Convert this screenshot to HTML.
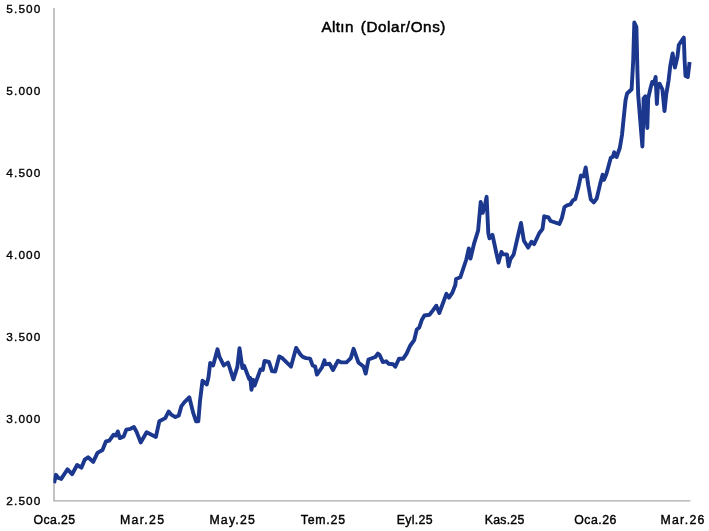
<!DOCTYPE html>
<html><head><meta charset="utf-8"><title>Altın (Dolar/Ons)</title>
<style>
html,body{margin:0;padding:0;background:#fff;}
body{width:709px;height:531px;overflow:hidden;}
svg{display:block;}
text{font-family:"Liberation Sans",sans-serif;fill:#000;stroke:#000;stroke-width:0.3;}
.yl{font-size:11.8px;stroke-width:0.35;}
.xl{font-size:12.3px;stroke-width:0.4;}
.tt{font-size:15.2px;stroke-width:0.5;}
</style></head><body>
<svg width="709" height="531" viewBox="0 0 709 531">
<rect width="709" height="531" fill="#fff"/>
<g id="labels" style="filter:grayscale(1)">
<path d="M54,8 V500.9 H690.4" fill="none" stroke="#ababab" stroke-width="1.4"/>
<text x="6.3" y="12.7" class="yl" textLength="34" lengthAdjust="spacing">5.500</text>
<text x="6.3" y="94.7" class="yl" textLength="34" lengthAdjust="spacing">5.000</text>
<text x="6.3" y="176.7" class="yl" textLength="34" lengthAdjust="spacing">4.500</text>
<text x="6.3" y="258.7" class="yl" textLength="34" lengthAdjust="spacing">4.000</text>
<text x="6.3" y="340.7" class="yl" textLength="34" lengthAdjust="spacing">3.500</text>
<text x="6.3" y="422.7" class="yl" textLength="34" lengthAdjust="spacing">3.000</text>
<text x="6.3" y="504.7" class="yl" textLength="34" lengthAdjust="spacing">2.500</text>
<text x="33.5" y="524.1" class="xl" textLength="41.5" lengthAdjust="spacing">Oca.25</text>
<text x="120.0" y="524.1" class="xl" textLength="44" lengthAdjust="spacing">Mar.25</text>
<text x="209.4" y="524.1" class="xl" textLength="45.5" lengthAdjust="spacing">May.25</text>
<text x="300.8" y="524.1" class="xl" textLength="44.2" lengthAdjust="spacing">Tem.25</text>
<text x="396.7" y="524.1" class="xl" textLength="35.8" lengthAdjust="spacing">Eyl.25</text>
<text x="484.7" y="524.1" class="xl" textLength="39.6" lengthAdjust="spacing">Kas.25</text>
<text x="574.3" y="524.1" class="xl" textLength="42" lengthAdjust="spacing">Oca.26</text>
<text x="660.4" y="524.1" class="xl" textLength="44" lengthAdjust="spacing">Mar.26</text>
<text x="321.6" y="32.3" class="tt" textLength="31.8" lengthAdjust="spacing">Altın</text>
<text x="360.8" y="32.3" class="tt" textLength="84.6" lengthAdjust="spacing">(Dolar/Ons)</text>
</g>
<clipPath id="c"><rect x="53.4" y="0" width="660" height="531"/></clipPath>
<path clip-path="url(#c)" d="M54.1,483.2 L55.9,474.8 L58.5,478.0 L61.2,478.9 L67.5,469.3 L72.1,474.2 L77.1,465.0 L81.4,467.7 L84.7,459.7 L88.1,457.3 L93.2,461.9 L97.5,452.9 L102.5,450.0 L105.9,441.5 L109.3,440.7 L113.6,434.7 L116.1,435.6 L117.8,431.4 L119.8,438.1 L123.7,436.4 L126.3,429.7 L130.5,428.8 L133.9,427.1 L136.4,431.4 L140.7,442.4 L146.6,432.2 L155.9,436.9 L159.3,421.3 L165.3,418.1 L168.6,411.5 L171.2,414.6 L175.4,417.1 L178.8,415.4 L181.4,406.1 L184.7,401.9 L189.3,397.3 L193.2,412.9 L196.1,421.4 L198.3,421.4 L200.0,401.0 L202.5,380.7 L206.8,384.4 L208.5,377.3 L210.2,362.9 L213.1,365.4 L217.5,349.3 L219.5,356.9 L223.7,365.4 L228.0,362.5 L233.4,379.3 L237.3,367.1 L239.5,348.1 L242.4,368.0 L244.1,365.8 L249.2,379.0 L250.3,378.1 L251.5,389.7 L253.2,379.8 L254.6,385.6 L260.5,369.4 L262.8,369.9 L264.5,360.9 L269.0,362.0 L272.0,371.1 L275.2,371.6 L279.2,356.4 L282.5,358.3 L291.0,366.6 L296.1,347.9 L300.5,354.6 L302.8,356.9 L306.0,358.1 L310.1,358.6 L312.6,365.4 L315.2,366.6 L316.9,374.6 L321.9,367.5 L324.5,360.3 L325.3,364.4 L329.6,363.7 L333.0,370.0 L338.0,360.7 L341.4,362.4 L346.5,362.4 L350.8,358.1 L353.6,348.8 L358.4,362.4 L363.5,366.5 L365.7,373.6 L368.5,359.5 L375.3,357.0 L377.8,353.6 L379.5,354.8 L382.9,362.1 L386.3,361.3 L388.8,363.8 L393.1,364.3 L395.3,366.7 L399.0,358.7 L403.2,358.7 L406.6,353.6 L410.0,346.0 L414.2,340.1 L416.8,329.4 L419.3,327.4 L421.9,319.7 L424.4,315.5 L429.5,314.7 L432.9,310.4 L436.3,305.7 L439.3,313.0 L443.1,302.8 L446.4,293.8 L449.0,297.7 L452.4,292.6 L455.3,285.0 L456.1,279.0 L460.3,277.3 L466.3,259.5 L468.8,248.5 L470.5,258.6 L473.9,244.2 L478.1,230.7 L480.7,201.9 L482.7,212.9 L484.9,205.3 L486.6,196.8 L488.3,233.2 L489.5,238.3 L492.5,234.9 L495.9,251.0 L498.5,262.5 L501.4,251.9 L503.1,254.4 L507.0,254.4 L508.6,266.3 L510.3,259.5 L513.7,254.4 L518.0,235.8 L521.0,223.0 L523.9,240.8 L528.1,247.6 L531.5,241.7 L534.1,244.2 L539.2,233.2 L542.5,229.0 L544.2,216.3 L548.5,217.5 L550.6,221.0 L559.4,223.9 L561.9,218.0 L564.5,207.0 L567.0,205.3 L570.4,204.4 L573.0,200.2 L575.2,199.3 L578.1,188.3 L580.9,175.6 L583.6,176.4 L585.7,167.5 L588.2,184.9 L590.8,199.3 L593.8,202.4 L596.7,198.5 L600.1,184.1 L602.6,174.7 L604.0,179.8 L606.4,173.9 L610.8,157.8 L612.8,156.9 L614.2,152.3 L616.6,157.0 L619.8,148.0 L622.0,135.0 L623.9,116.0 L625.6,99.7 L627.1,93.5 L631.6,89.3 L633.2,60.8 L634.3,22.5 L636.4,27.0 L637.4,70.0 L638.2,95.0 L640.2,120.0 L642.4,146.5 L643.3,120.0 L643.6,98.4 L645.4,96.2 L646.3,110.0 L647.3,128.0 L648.2,98.4 L650.4,88.6 L652.2,82.0 L653.9,83.7 L655.6,76.9 L656.9,104.0 L657.9,86.0 L659.5,83.7 L662.4,89.4 L664.5,111.0 L666.3,93.9 L668.6,80.3 L670.3,65.6 L672.6,53.5 L674.9,67.5 L677.4,57.0 L678.8,45.0 L681.4,41.0 L683.8,37.5 L684.6,60.0 L685.5,76.0 L687.8,77.0 L689.6,62.0" fill="none" stroke="#1b388e" stroke-width="3.9" stroke-linejoin="round" stroke-linecap="butt"/>
</svg></body></html>
